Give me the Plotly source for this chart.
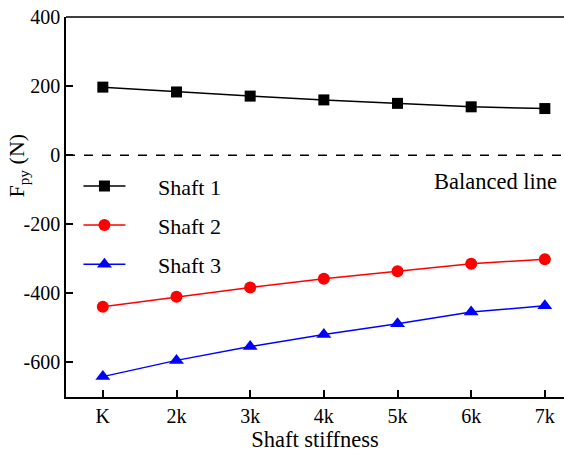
import plotly.graph_objects as go

categories = ["K", "2k", "3k", "4k", "5k", "6k", "7k"]
x_pos = [1, 2, 3, 4, 5, 6, 7]
shaft1 = [197, 183, 171, 160, 150, 140, 135]
shaft2 = [-439, -410, -383, -358, -336, -314, -301]
shaft3 = [-641, -594, -554, -519, -488, -454, -436]
y_ticks = [-600, -400, -200, 0, 200, 400]
y_tick_labels = ["-600", "-400", "-200", "0", "200", "400"]

FONT = "Liberation Serif"
PAD = "\u00a0" * 5

fig = go.Figure()
series = [
    ("Shaft 1", shaft1, "black", "square", 11, "legend"),
    ("Shaft 2", shaft2, "red", "circle", 12, "legend2"),
    ("Shaft 3", shaft3, "blue", "triangle-up", 13, "legend3"),
]
for name, vals, col, sym, ms, lg in series:
    fig.add_trace(go.Scatter(
        x=x_pos, y=vals, name=PAD + name, mode="lines+markers",
        line=dict(color=col, width=1.5),
        marker=dict(color=col, symbol=sym, size=ms),
        legend=lg, showlegend=True,
    ))

fig.add_shape(type="line", xref="paper", x0=0, x1=1, yref="y", y0=0, y1=0,
              line=dict(color="black", width=1.5, dash="dash"))
fig.add_annotation(text="Balanced line", xref="paper", x=0.99, xanchor="right",
                   yref="y", y=-75, showarrow=False,
                   font=dict(family=FONT, size=22.5, color="black"))
fig.add_annotation(text="F<sub>py</sub> (N)", xref="paper", x=-0.0964, xanchor="center",
                   yref="paper", y=0.609, yanchor="middle", textangle=-90, showarrow=False,
                   font=dict(family=FONT, size=22, color="black"))

leg_common = dict(bgcolor="rgba(0,0,0,0)", font=dict(family=FONT, size=22, color="black"),
                  xanchor="left", yanchor="middle", itemwidth=42)
fig.update_layout(
    width=564, height=452,
    margin=dict(l=66, r=0, t=17, b=55),
    plot_bgcolor="white", paper_bgcolor="white",
    showlegend=True,
    legend=dict(x=0.025, y=(-90 + 700) / 1100, **leg_common),
    legend2=dict(x=0.025, y=(-203 + 700) / 1100, **leg_common),
    legend3=dict(x=0.025, y=(-316 + 700) / 1100, **leg_common),
    xaxis=dict(
        range=[0.5, 7.26], tickvals=x_pos, ticktext=categories,
        showgrid=False, zeroline=False, showline=True, linecolor="black", linewidth=1.5,
        ticks="inside", ticklen=7, tickwidth=1.5, tickcolor="black",
        tickfont=dict(family=FONT, size=20, color="black"),
        title=dict(text="Shaft stiffness", font=dict(family=FONT, size=22.5, color="black"), standoff=6),
        mirror=False,
    ),
    yaxis=dict(
        range=[-700, 400], tickvals=y_ticks, ticktext=y_tick_labels,
        showgrid=False, zeroline=False, showline=True, linecolor="black", linewidth=1.5,
        ticks="inside", ticklen=7, tickwidth=1.5, tickcolor="black",
        tickfont=dict(family=FONT, size=20, color="black"),
    ),
)
fig.add_shape(type="line", xref="paper", x0=0, x1=1, yref="paper", y0=1, y1=1,
              line=dict(color="black", width=1.5))

fig.write_html("out.html")
